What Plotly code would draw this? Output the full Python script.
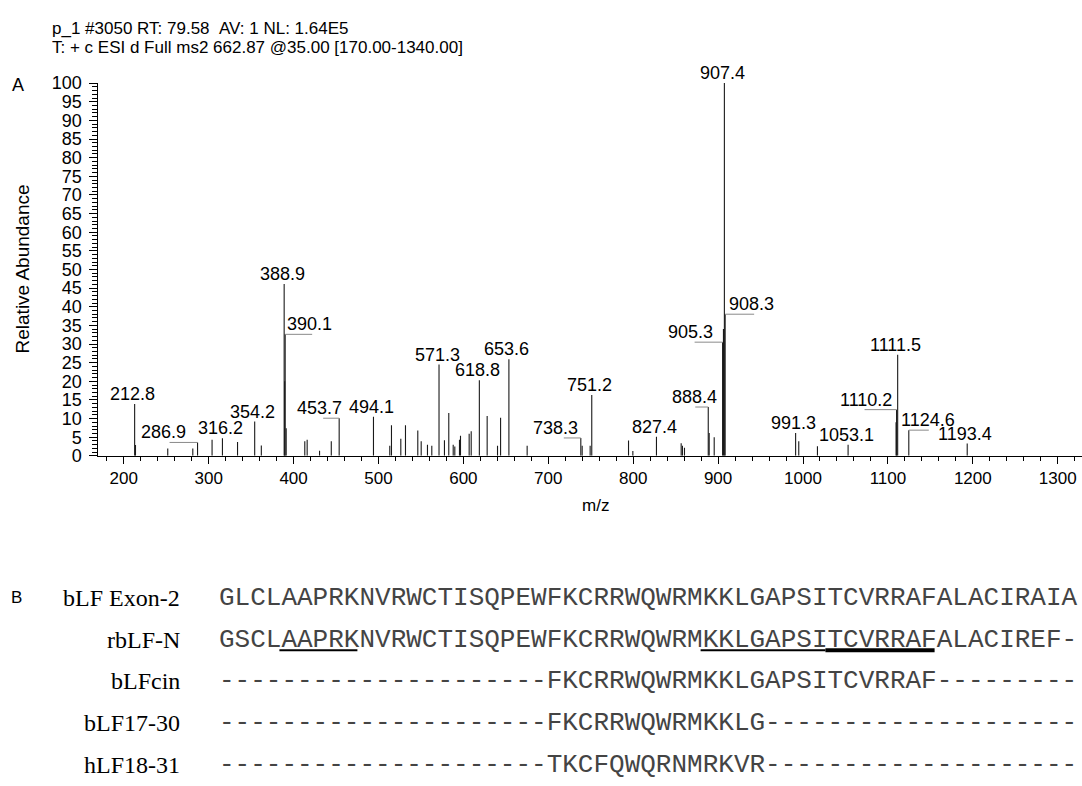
import plotly.graph_objects as go

# ---------------- data ----------------
mz = [212.8, 213.8, 251.8, 281.3, 286.9, 304.0, 316.2, 334.0, 354.2, 362.0,
      388.9, 389.5, 390.1, 391.3, 413.2, 416.0, 430.6, 444.4, 453.7, 494.1,
      513.3, 515.3, 526.3, 531.8, 546.3, 550.3, 557.7, 562.8, 571.3, 577.7,
      582.8, 588.0, 589.9, 595.4, 596.6, 606.8, 609.2, 618.8, 628.0, 640.2,
      643.8, 653.6, 675.1, 738.3, 739.9, 749.3, 751.2, 794.5, 799.6, 827.4,
      856.5, 858.0, 860.4, 888.4, 889.5, 895.4, 905.3, 906.3, 907.4, 908.3,
      991.3, 995.0, 1017.0, 1053.1, 1109.6, 1110.2, 1111.5, 1124.6, 1193.4]
abundance = [13.9, 2.9, 2.0, 2.0, 3.6, 4.3, 4.7, 3.7, 9.2, 2.8,
             46.1, 20.0, 32.6, 7.4, 3.9, 4.3, 1.4, 3.9, 10.1, 10.5,
             2.7, 8.2, 4.6, 8.2, 6.8, 3.9, 3.0, 2.7, 24.5, 4.2,
             11.5, 3.0, 2.5, 4.3, 5.4, 5.9, 6.6, 20.3, 10.7, 2.7,
             10.2, 25.9, 2.7, 4.8, 2.7, 2.7, 16.3, 4.1, 1.3, 5.1,
             3.4, 2.7, 2.2, 13.1, 6.1, 5.0, 30.5, 34.0, 100.0, 38.0,
             6.1, 3.9, 2.6, 3.0, 9.0, 12.4, 27.1, 6.9, 3.3]
labeled_mz = [212.8, 286.9, 316.2, 354.2, 388.9, 390.1, 453.7, 494.1, 571.3,
              618.8, 653.6, 738.3, 751.2, 827.4, 888.4, 905.3, 907.4, 908.3,
              991.3, 1053.1, 1110.2, 1111.5, 1124.6, 1193.4]

x_ticks = list(range(200, 1301, 100))

header_lines = ["p_1 #3050 RT: 79.58\u00a0\u00a0AV: 1 NL: 1.64E5",
                "T: + c ESI d Full ms2 662.87 @35.00 [170.00-1340.00]"]

seq_names = ["bLF Exon-2", "rbLF-N", "bLFcin", "bLF17-30", "hLF18-31"]
seq_strings = [
    "GLCLAAPRKNVRWCTISQPEWFKCRRWQWRMKKLGAPSITCVRRAFALACIRAIA",
    "GSCLAAPRKNVRWCTISQPEWFKCRRWQWRMKKLGAPSITCVRRAFALACIREF-",
    "---------------------FKCRRWQWRMKKLGAPSITCVRRAF---------",
    "---------------------FKCRRWQWRMKKLG--------------------",
    "---------------------TKCFQWQRNMRKVR--------------------",
]
# underlined segments of rbLF-N: (first residue index, last residue index, thickness)
underlines = [(4, 8, 2), (31, 38, 2), (39, 45, 4)]

# ---------------- layout constants ----------------
W, H = 1082, 786
ax_left, ax_right = 98.3, 1082.0
ax_top, ax_bottom = 75.0, 457.5
x_range = [170, 1328.6]
px_per_mz = (ax_right - ax_left) / (x_range[1] - x_range[0])

FONT_A = "Liberation Sans, Arial, Helvetica, sans-serif"
FONT_SERIF = "Liberation Serif, Times New Roman, serif"
FONT_MONO = "Liberation Mono, Courier New, monospace"

# label offsets in px: (label x-shift, connector length)
label_offsets = {286.9: (-34, -28), 390.1: (24, 27), 453.7: (-20, -16),
                 738.3: (-25, -17), 888.4: (-14, -13), 905.3: (-32, -28),
                 908.3: (26, 29), 1110.2: (-31, -32), 1124.6: (19, 20)}

def px(xp):
    return xp / W

def py(yp):
    return 1 - yp / H

# ---------------- figure ----------------
stem_x, stem_y = [], []
for m, a in zip(mz, abundance):
    stem_x += [m, m, None]
    stem_y += [0, a, None]

fig = go.Figure()
fig.add_trace(go.Scatter(x=stem_x, y=stem_y, mode="lines",
                         line=dict(color="#1a1a1a", width=1.1),
                         hoverinfo="skip", showlegend=False))

annotations = []
shapes = []
for m in labeled_mz:
    a = abundance[mz.index(m)]
    dx, conn = label_offsets.get(m, (-2, 0))
    annotations.append(dict(x=m, y=a, xref="x", yref="y", text=f"{m:.1f}",
                            showarrow=False, xanchor="center", yanchor="bottom",
                            xshift=dx, yshift=-2,
                            font=dict(family=FONT_A, size=18, color="black")))
    if conn:
        shapes.append(dict(type="line", xref="x", yref="y", x0=m,
                           x1=m + conn / px_per_mz, y0=a, y1=a,
                           line=dict(color="#8a8a8a", width=1)))

# header
for i, t in enumerate(header_lines):
    annotations.append(dict(x=px(50), y=py(19 + 19 * i), xref="paper", yref="paper",
                            text=t, showarrow=False, xanchor="left", yanchor="middle",
                            font=dict(family=FONT_A, size=17, color="black")))
# panel letters
annotations.append(dict(x=px(18), y=py(77), xref="paper", yref="paper", text="A",
                        showarrow=False, xanchor="center", yanchor="middle",
                        font=dict(family=FONT_A, size=18, color="black")))
# axis titles
annotations.append(dict(x=px(22), y=py((ax_top + ax_bottom) / 2), xref="paper", yref="paper",
                        text="Relative Abundance", textangle=-90, showarrow=False,
                        xanchor="center", yanchor="middle",
                        font=dict(family=FONT_A, size=19, color="black")))
annotations.append(dict(x=px(595), y=py(508), xref="paper", yref="paper", text="m/z",
                        showarrow=False, xanchor="center", yanchor="middle",
                        font=dict(family=FONT_A, size=17, color="black")))

# panel B
row_y = [603, 646, 689, 732, 775]
mono_size = 26.0
char_w = 0.6 * mono_size
seq_x0 = 217
annotations.append(dict(x=px(16), y=py(row_y[0]), xref="paper", yref="paper", text="B",
                        showarrow=False, xanchor="center", yanchor="middle",
                        font=dict(family=FONT_A, size=17, color="black")))
for name, seq, yy in zip(seq_names, seq_strings, row_y):
    annotations.append(dict(x=px(182), y=py(yy), xref="paper", yref="paper", text=name,
                            showarrow=False, xanchor="right", yanchor="middle",
                            font=dict(family=FONT_SERIF, size=24, color="black")))
    annotations.append(dict(x=px(seq_x0), y=py(yy), xref="paper", yref="paper", text=seq,
                            showarrow=False, xanchor="left", yanchor="middle",
                            font=dict(family=FONT_MONO, size=mono_size, color="#444444")))
for i0, i1, th in underlines:
    yline = row_y[1] + 0.42 * mono_size
    shapes.append(dict(type="line", xref="paper", yref="paper",
                       x0=px(seq_x0 + i0 * char_w), x1=px(seq_x0 + (i1 + 1) * char_w),
                       y0=py(yline), y1=py(yline),
                       line=dict(color="black", width=th)))

fig.update_layout(
    width=W, height=H, margin=dict(l=0, r=0, t=0, b=0),
    paper_bgcolor="white", plot_bgcolor="white",
    showlegend=False,
    annotations=annotations, shapes=shapes,
    xaxis=dict(domain=[px(ax_left), 1], range=x_range, tickmode="array",
               tickvals=x_ticks, ticks="outside", ticklen=7, tickwidth=1,
               tickcolor="black", showline=True, linecolor="black", linewidth=1,
               showgrid=False, zeroline=False,
               tickfont=dict(family=FONT_A, size=17, color="black"),
               minor=dict(dtick=20, tick0=0, ticks="outside", ticklen=4,
                          tickcolor="black", showgrid=False)),
    yaxis=dict(domain=[py(ax_bottom), py(ax_top)], range=[0, 100], dtick=5,
               ticks="outside", ticklen=8, tickwidth=1, tickcolor="black",
               showline=True, linecolor="black", linewidth=1,
               showgrid=False, zeroline=False, ticklabelstandoff=4,
               tickfont=dict(family=FONT_A, size=18, color="black"),
               minor=dict(dtick=1, ticks="outside", ticklen=5,
                          tickcolor="black", showgrid=False)),
)

fig.write_html("out.html",
               config={"displayModeBar": False},
               post_script="document.body.style.margin='0px';"
                           "document.body.style.overflow='hidden';")
